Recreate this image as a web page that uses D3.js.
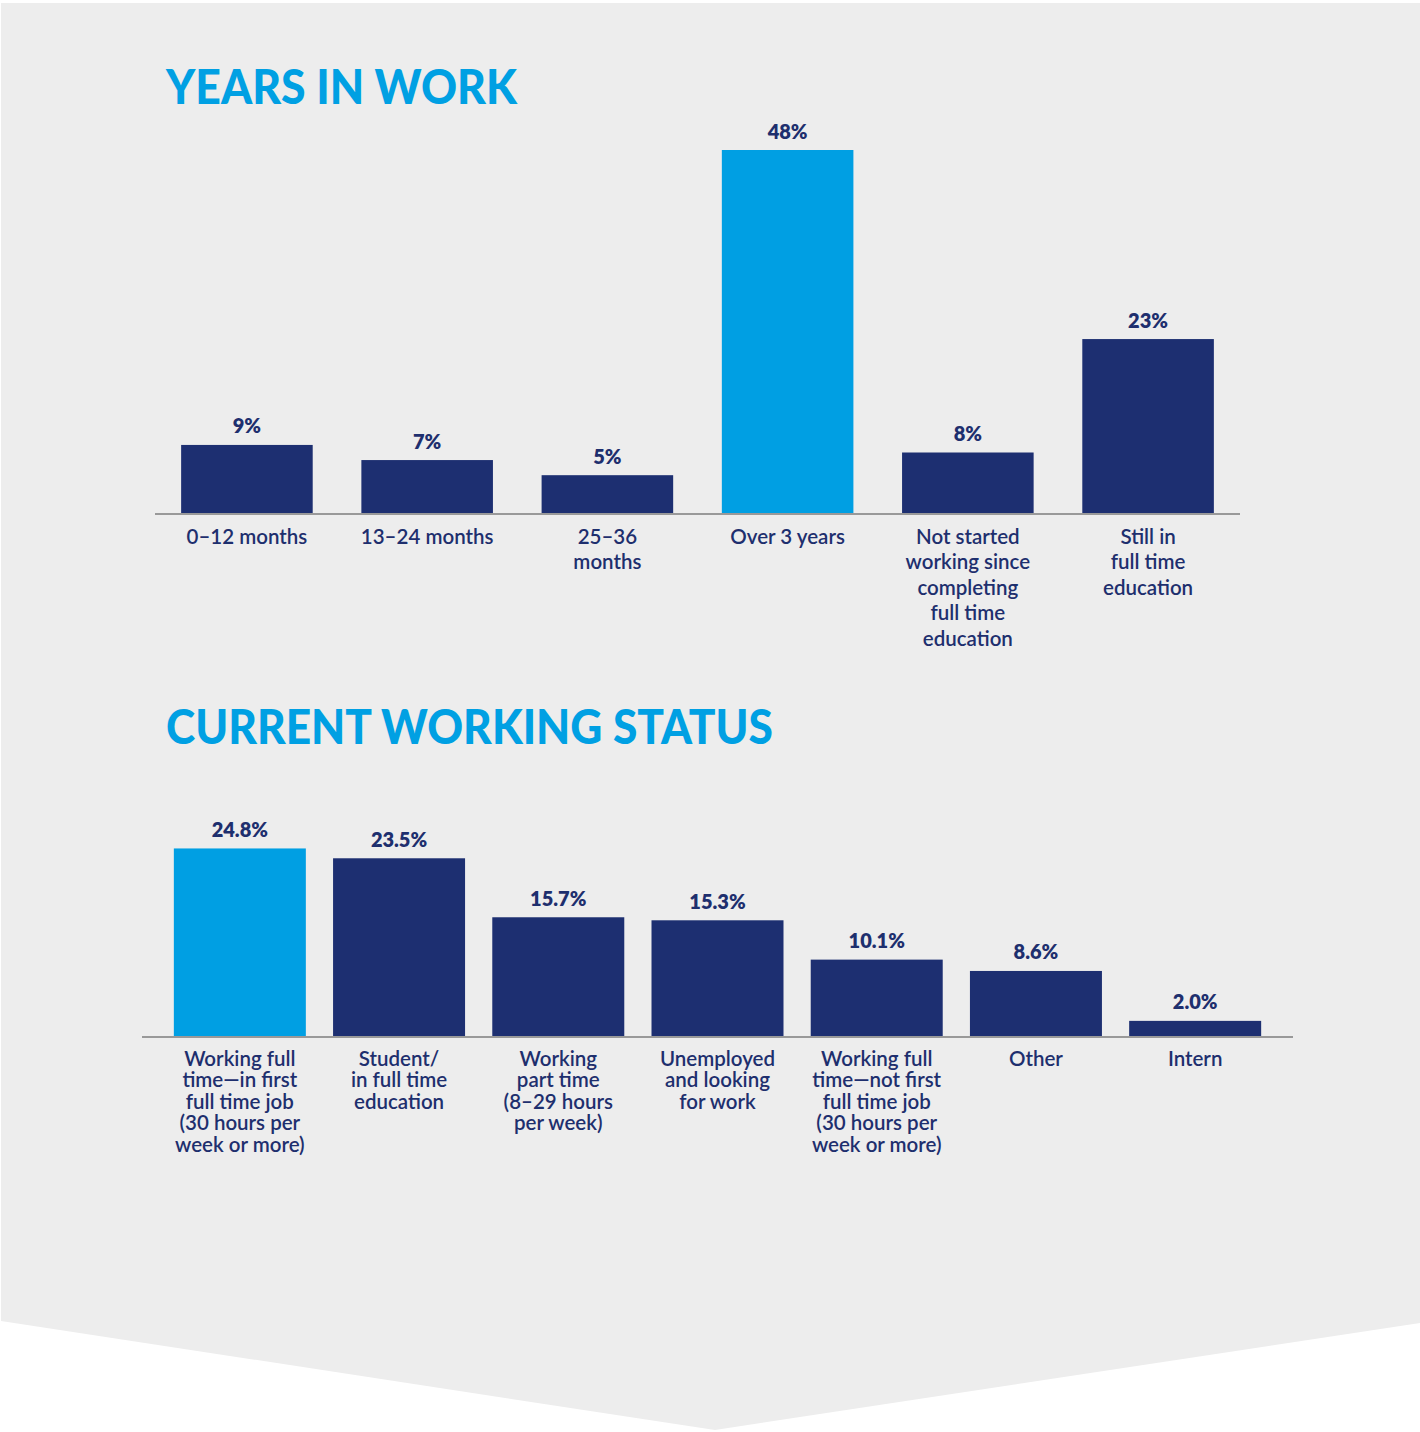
<!DOCTYPE html>
<html>
<head>
<meta charset="utf-8">
<title>Years in work / Current working status</title>
<style>
  body { margin: 0; background: #fff; }
  svg { display: block; }
  .title { font-family: Lato, "Open Sans", sans-serif; font-weight: 900; fill: #00a0e3; }
  .value { font-family: Lato, "Open Sans", sans-serif; font-weight: 800; fill: #1e2f6e; font-size: 20px; }
  .cat { font-family: Lato, "Open Sans", sans-serif; font-weight: 600; fill: #1e2f6e; }
</style>
</head>
<body>
<svg id="chart"></svg>
<script src="https://d3js.org/d3.v7.min.js"></script>
<script>

// years in work
const yearsCats = ["0–12 months", "13–24 months", "25–36\nmonths", "Over 3 years",
  "Not started\nworking since\ncompleting\nfull time\neducation", "Still in\nfull time\neducation"];
const yearsValues = [9, 7, 5, 48, 8, 23];
const yearsLabels = ["9%", "7%", "5%", "48%", "8%", "23%"];

// current working status
const statusCats = ["Working full\ntime—in first\nfull time job\n(30 hours per\nweek or more)",
  "Student/\nin full time\neducation", "Working\npart time\n(8–29 hours\nper week)",
  "Unemployed\nand looking\nfor work", "Working full\ntime—not first\nfull time job\n(30 hours per\nweek or more)",
  "Other", "Intern"];
const statusValues = [24.8, 23.5, 15.7, 15.3, 10.1, 8.6, 2.0];
const statusLabels = ["24.8%", "23.5%", "15.7%", "15.3%", "10.1%", "8.6%", "2.0%"];

const W = 1420, H = 1432;
const navy = "#1d2f71", blue = "#009fe3";

const svg = d3.select("#chart").attr("width", W).attr("height", H);

// grey panel with chevron bottom
svg.append("path")
    .attr("d", "M1,3 L1420,3 L1420,1323 L715,1430 L1,1321 Z")
    .attr("fill", "#ededed");

function title(text, x, y, len) {
    svg.append("text")
        .attr("class", "title")
        .attr("x", x).attr("y", y)
        .attr("font-size", 47)
        .attr("textLength", len)
        .attr("lengthAdjust", "spacingAndGlyphs")
        .text(text);
}

function barChart(opts) {
    const x = d3.scaleBand()
        .domain(opts.cats)
        .range(opts.xr)
        .paddingInner(opts.pi)
        .paddingOuter(opts.po);
    // same value scale for both charts (~7.57px per %)
    const y = d3.scaleLinear().domain([0, 48]).range([opts.base, opts.base - 363]);

    const g = svg.append("g");

    g.selectAll("rect")
        .data(opts.values)
        .join("rect")
        .attr("x", (d, i) => x(opts.cats[i]))
        .attr("y", d => y(d))
        .attr("width", x.bandwidth())
        .attr("height", d => y(0) - y(d))
        .attr("fill", (d, i) => i === opts.hi ? blue : navy);

    g.append("line")
        .attr("x1", opts.xr[0]).attr("x2", opts.xr[1])
        .attr("y1", y(0) + 1).attr("y2", y(0) + 1)
        .attr("stroke", "#999")
        .attr("stroke-width", 2);

    g.selectAll(".value")
        .data(opts.values)
        .join("text")
        .attr("class", "value")
        .attr("text-anchor", "middle")
        .attr("x", (d, i) => x(opts.cats[i]) + x.bandwidth() / 2)
        .attr("y", d => y(d) - 11.5)
        .text((d, i) => opts.labels[i]);

    const cat = g.selectAll(".cat")
        .data(opts.cats)
        .join("text")
        .attr("class", "cat")
        .attr("font-size", opts.fs)
        .attr("text-anchor", "middle")
        .attr("x", d => x(d) + x.bandwidth() / 2)
        .attr("y", y(0) + opts.labelOff);

    cat.selectAll("tspan")
        .data(d => d.split("\n"))
        .join("tspan")
        .attr("x", function() { return this.parentNode.getAttribute("x"); })
        .attr("dy", (d, i) => i === 0 ? 0 : opts.lineH)
        .text(d => d);
}

title("YEARS IN WORK", 166, 104, 351);
barChart({
    cats: yearsCats, values: yearsValues, labels: yearsLabels,
    xr: [155, 1240], pi: 0.27, po: 0.145, base: 513, hi: 3,
    labelOff: 30.5, lineH: 25.5, fs: 20.5
});

title("CURRENT WORKING STATUS", 166, 744, 607);
barChart({
    cats: statusCats, values: statusValues, labels: statusLabels,
    xr: [142, 1293], pi: 0.171, po: 0.2, base: 1036, hi: 0,
    labelOff: 29.5, lineH: 21.5, fs: 20.5
});

</script>
</body>
</html>
